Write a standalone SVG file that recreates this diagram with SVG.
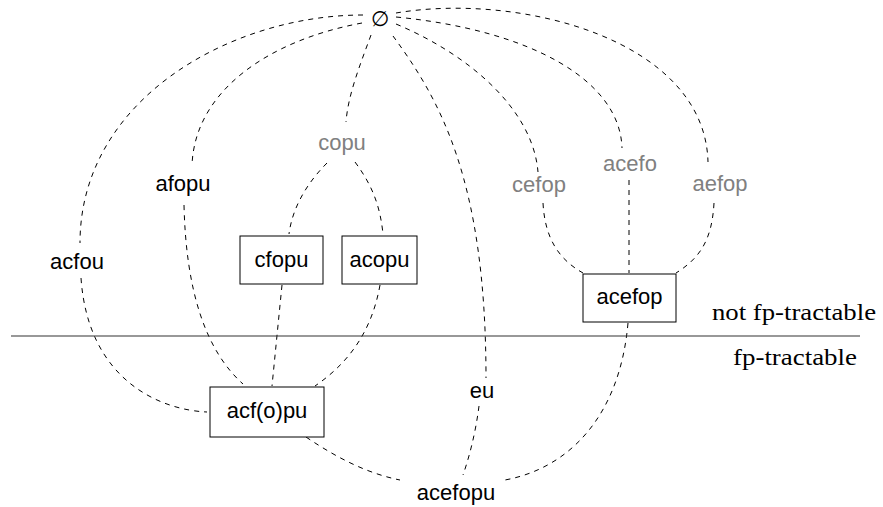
<svg xmlns="http://www.w3.org/2000/svg" width="883" height="507" viewBox="0 0 883 507">
<style>
.e{fill:none;stroke:#000;stroke-width:1;stroke-dasharray:5 5}
.b{fill:#fff;stroke:#000;stroke-width:1}
.t{font-family:"Liberation Sans",Arial,sans-serif;font-size:22px;fill:#000;text-anchor:middle}
.g{fill:#808080}
.s{font-family:"Liberation Serif","Times New Roman",serif;font-size:24px;fill:#000;text-anchor:middle}
</style>
<rect width="883" height="507" fill="#fff"/>
<g id="connectors">
<path class="e" d="M363,15 C230,15 80,100 80,243"/>
<path class="e" d="M81,278 C88,380 160,410 207,412"/>
<path class="e" d="M362,23 C270,40 195,90 192,165"/>
<path class="e" d="M184,205 C186,290 205,350 243,384"/>
<path class="e" d="M371,35 C360,65 348,95 346,122"/>
<path class="e" d="M327,163 C305,185 292,210 289,234"/>
<path class="e" d="M355,162 C372,185 380,205 383,234"/>
<path class="e" d="M282,285 L272,386"/>
<path class="e" d="M380,285 C372,330 350,362 315,386"/>
<path class="e" d="M393,36 C440,100 486,180 486,378"/>
<path class="e" d="M479,406 C476,430 470,455 463,475"/>
<path class="e" d="M396,24 C470,55 533,110 538,172"/>
<path class="e" d="M543,203 C545,240 560,260 583,273"/>
<path class="e" d="M396,17 C530,30 620,80 622,148"/>
<path class="e" d="M629,180 L629,273"/>
<path class="e" d="M396,13 C520,-8 705,40 708,162"/>
<path class="e" d="M714,203 C712,240 700,258 676,273"/>
<path class="e" d="M628,323 C620,415 570,468 505,480"/>
<path class="e" d="M306,437 C340,460 370,474 400,480"/>
<line x1="11" y1="336" x2="860" y2="336" stroke="#333" stroke-width="1.2"/>
</g>
<g id="empty"><text x="380" y="26" style="font-family:'Liberation Serif','DejaVu Serif',serif;font-size:21px;text-anchor:middle">∅</text></g>
<g id="copu"><text class="t g" x="342" y="150">copu</text></g>
<g id="afopu"><text class="t" x="183" y="191">afopu</text></g>
<g id="acfou"><text class="t" x="77" y="269">acfou</text></g>
<g id="cefop"><text class="t g" x="539" y="192">cefop</text></g>
<g id="acefo"><text class="t g" x="630" y="171">acefo</text></g>
<g id="aefop"><text class="t g" x="720" y="191">aefop</text></g>
<g id="cfopu"><rect class="b" x="240" y="236" width="83" height="48"/><text class="t" x="281.5" y="267">cfopu</text></g>
<g id="acopu"><rect class="b" x="342" y="236" width="75" height="48"/><text class="t" x="379.5" y="267">acopu</text></g>
<g id="acefop"><rect class="b" x="583" y="274" width="93" height="48"/><text class="t" x="629.5" y="304">acefop</text></g>
<g id="acfopu"><rect class="b" x="210" y="387" width="114" height="50"/><text class="t" x="267" y="418">acf(o)pu</text></g>
<g id="eu"><text class="t" x="482" y="398">eu</text></g>
<g id="acefopu"><text class="t" x="456" y="500">acefopu</text></g>
<g id="regions">
<text class="s" x="794" y="320" textLength="164" lengthAdjust="spacingAndGlyphs">not fp-tractable</text>
<text class="s" x="795" y="365" textLength="124" lengthAdjust="spacingAndGlyphs">fp-tractable</text>
</g>
</svg>
